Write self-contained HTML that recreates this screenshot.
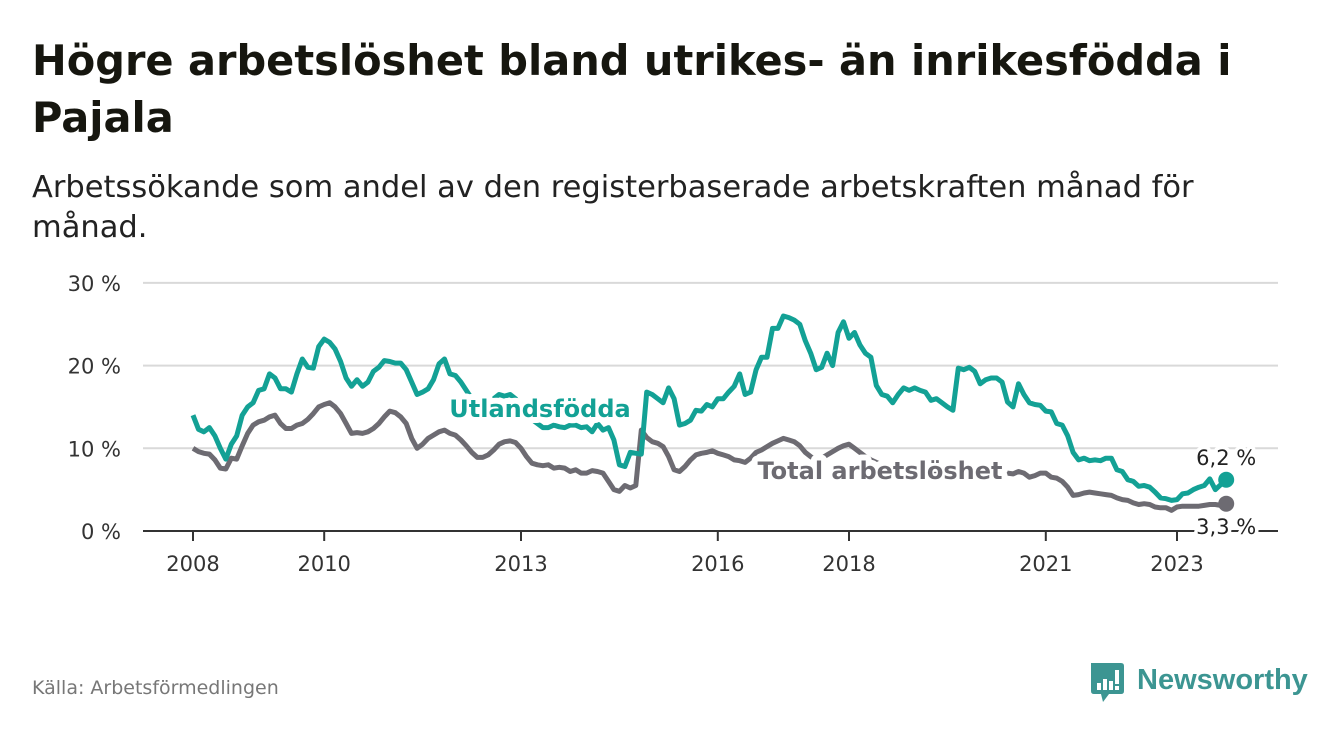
<!DOCTYPE html>
<html><head><meta charset="utf-8">
<style>
html,body{margin:0;padding:0;background:#fff;}
body{width:1340px;height:734px;position:relative;overflow:hidden;font-family:"DejaVu Sans","Liberation Sans",sans-serif;color:#111;}
#title{position:absolute;left:32px;top:32px;font-size:41.5px;font-weight:bold;line-height:57px;width:1300px;color:#16160f;white-space:nowrap;}
#subtitle{position:absolute;left:32px;top:168px;font-size:30.5px;line-height:40px;width:1300px;color:#222;white-space:nowrap;}
#source{position:absolute;left:32px;top:677px;font-size:19px;color:#777;}
#logo{position:absolute;left:1089px;top:661px;}
svg text{font-family:"DejaVu Sans","Liberation Sans",sans-serif;}
</style></head><body>
<div id="title">Högre arbetslöshet bland utrikes- än inrikesfödda i<br>Pajala</div>
<div id="subtitle">Arbetssökande som andel av den registerbaserade arbetskraften månad för<br>månad.</div>
<svg id="chart" width="1340" height="734" style="position:absolute;left:0;top:0"></svg>
<div id="source">Källa: Arbetsförmedlingen</div>
<div id="logo">
<svg width="220" height="44">
<path d="M2 2 H32 Q35 2 35 5 V30 Q35 33 32 33 H20 L14 41 L12 33 H5 Q2 33 2 30 Z" fill="#3c9592"/>
<rect x="8" y="22" width="4" height="7" fill="#fff"/><rect x="14" y="18" width="4" height="11" fill="#fff"/><rect x="20" y="20" width="4" height="9" fill="#fff"/><rect x="26" y="9" width="4" height="14" fill="#fff"/><rect x="26" y="25" width="4" height="4" fill="#fff"/>
<text x="48" y="28" font-weight="bold" fill="#3c9592" style="font-family:'Liberation Sans',sans-serif;font-size:29px">Newsworthy</text>
</svg></div>
<script>
const startYear = 2008;
const yTicks = [0, 10, 20, 30];
const xTickYears = [2008, 2010, 2013, 2016, 2018, 2021, 2023];
const utlandsfodda = [14.0,12.3,12.0,12.5,11.5,10.0,8.7,10.5,11.5,14.0,15.0,15.5,17.0,17.2,19.0,18.5,17.2,17.2,16.8,19.0,20.8,19.8,19.7,22.3,23.2,22.8,22.0,20.5,18.5,17.5,18.3,17.5,18.0,19.3,19.8,20.6,20.5,20.3,20.3,19.5,18.0,16.5,16.8,17.2,18.3,20.2,20.8,19.0,18.8,18.0,17.0,16.0,15.5,15.0,14.5,16.0,16.5,16.3,16.5,16.0,15.0,14.0,13.5,13.0,12.5,12.5,12.8,12.6,12.5,12.8,12.8,12.5,12.6,12.0,13.0,12.2,12.5,11.0,8.0,7.8,9.5,9.4,9.3,16.8,16.5,16.0,15.5,17.3,16.0,12.8,13.0,13.4,14.6,14.5,15.3,15.0,16.0,16.0,16.8,17.5,19.0,16.5,16.8,19.5,21.0,21.0,24.5,24.5,26.0,25.8,25.5,25.0,23.0,21.5,19.5,19.8,21.5,20.0,24.0,25.3,23.3,24.0,22.5,21.5,21.0,17.6,16.5,16.3,15.5,16.5,17.3,17.0,17.3,17.0,16.8,15.8,16.0,15.5,15.0,14.6,19.7,19.5,19.8,19.3,17.8,18.3,18.5,18.5,18.0,15.6,15.0,17.8,16.5,15.5,15.3,15.2,14.5,14.4,13.0,12.8,11.5,9.5,8.6,8.8,8.5,8.6,8.5,8.8,8.8,7.4,7.2,6.2,6.0,5.4,5.5,5.3,4.7,4.0,3.9,3.7,3.8,4.5,4.6,5.0,5.3,5.5,6.3,5.0,5.6,6.2];
const total = [10.0,9.6,9.4,9.3,8.6,7.6,7.5,8.8,8.7,10.3,11.8,12.8,13.2,13.4,13.8,14.0,13.0,12.4,12.4,12.8,13.0,13.5,14.2,15.0,15.3,15.5,15.0,14.2,13.0,11.8,11.9,11.8,12.0,12.4,13.0,13.8,14.5,14.3,13.8,13.0,11.2,10.0,10.5,11.2,11.6,12.0,12.2,11.8,11.6,11.0,10.3,9.5,8.9,8.9,9.2,9.8,10.5,10.8,10.9,10.7,10.0,9.0,8.2,8.0,7.9,8.0,7.6,7.7,7.6,7.2,7.4,7.0,7.0,7.3,7.2,7.0,6.0,5.0,4.8,5.5,5.2,5.5,12.2,11.3,10.8,10.6,10.2,9.0,7.4,7.2,7.8,8.6,9.2,9.4,9.5,9.7,9.4,9.2,9.0,8.6,8.5,8.3,8.8,9.5,9.8,10.2,10.6,10.9,11.2,11.0,10.8,10.3,9.5,9.0,8.6,8.8,9.2,9.6,10.0,10.3,10.5,10.0,9.5,9.0,8.6,8.3,8.0,7.8,7.6,7.7,7.8,7.6,7.5,7.5,7.3,7.2,7.0,7.0,6.9,6.8,7.3,7.5,7.6,7.4,7.2,7.3,7.4,7.3,7.2,7.0,6.9,7.2,7.0,6.5,6.7,7.0,7.0,6.5,6.4,6.0,5.3,4.3,4.4,4.6,4.7,4.6,4.5,4.4,4.3,4.0,3.8,3.7,3.4,3.2,3.3,3.2,2.9,2.8,2.8,2.5,2.9,3.0,3.0,3.0,3.0,3.1,3.2,3.2,3.1,3.3];

const NS = 'http://www.w3.org/2000/svg';
const svg = document.getElementById('chart');
const X0 = 193, PX_PER_YEAR = 65.6, Y0 = 531, PX_PER_PCT = 8.27;
const xYear = y => X0 + (y - startYear) * PX_PER_YEAR;
const xMonth = i => X0 + i * PX_PER_YEAR / 12;
const yVal = v => Y0 - v * PX_PER_PCT;
function mk(tag, attrs, parent) {
  const e = document.createElementNS(NS, tag);
  for (const k in attrs) e.setAttribute(k, attrs[k]);
  (parent || svg).appendChild(e);
  return e;
}
const fmt = v => v.toFixed(1).replace('.', ',') + ' %';

yTicks.forEach(t => {
  if (t > 0) {
    const g = mk('line', {x1: 143, x2: 1278, y1: yVal(t), y2: yVal(t), stroke: '#d9d9d9', 'stroke-width': 2});
    
    
  }
  const lb = mk('text', {x: 121, y: yVal(t) + 8, 'text-anchor': 'end', 'font-size': 21, fill: '#333'});
  lb.textContent = t + ' %';
  
  
});
xTickYears.forEach(yr => {
  const x = xYear(yr);
  const tk = mk('line', {x1: x, x2: x, y1: Y0, y2: Y0 + 10, stroke: '#333', 'stroke-width': 2});
  
  
  const lb = mk('text', {x: x, y: 571, 'text-anchor': 'middle', 'font-size': 21, fill: '#333'});
  lb.textContent = yr;
  
  
});
const ax = mk('line', {x1: 143, x2: 1278, y1: Y0, y2: Y0, stroke: '#333', 'stroke-width': 2});



function series(arr, color, name) {
  const d = arr.map((v, i) => (i ? 'L' : 'M') + xMonth(i).toFixed(1) + ' ' + yVal(v).toFixed(1)).join(' ');
  const p = mk('path', {d: d, fill: 'none', stroke: color, 'stroke-width': 5, 'stroke-linejoin': 'round'});
  
  
  const last = arr.length - 1;
  const c = mk('circle', {cx: xMonth(last), cy: yVal(arr[last]), r: 8, fill: color});
  
  
}
series(total, '#6d6b72', 'total');
series(utlandsfodda, '#13a195', 'utlandsfodda');

function label(txt, x, y, size, color, weight, anchor, name, sw) {
  const t = mk('text', {x: x, y: y, 'font-size': size, fill: color, 'font-weight': weight, 'text-anchor': anchor, stroke: '#fff', 'stroke-width': sw, 'paint-order': 'stroke', 'stroke-linejoin': 'round'});
  t.textContent = txt;
  
  
}
label('Utlandsfödda', 540, 417, 24, '#13a195', 'bold', 'middle', 'utlandsfodda-label', 12);
label('Total arbetslöshet', 880, 479, 24, '#6d6b72', 'bold', 'middle', 'total-label', 12);
const lastI = utlandsfodda.length - 1;
label(fmt(utlandsfodda[lastI]), xMonth(lastI), 465, 21, '#222', 'normal', 'middle', 'utlandsfodda-end-value', 7);
label(fmt(total[lastI]), xMonth(lastI), 534, 21, '#222', 'normal', 'middle', 'total-end-value', 7);
</script>
</body></html>
